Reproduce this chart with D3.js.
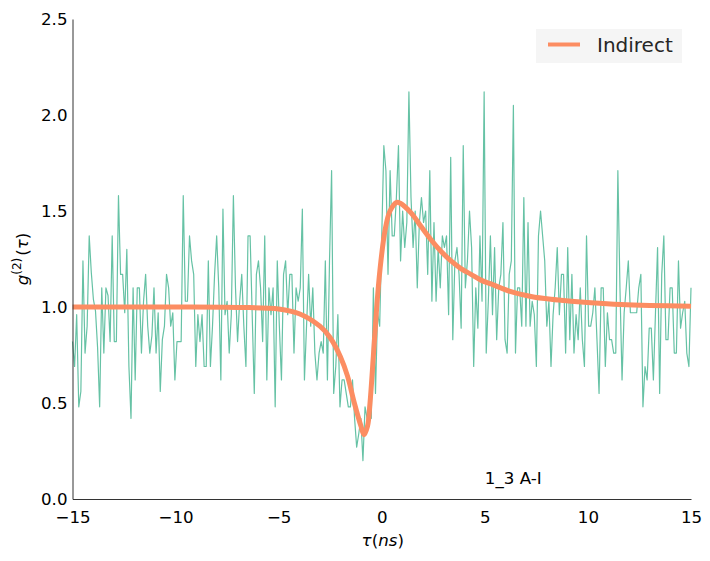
<!DOCTYPE html>
<html>
<head>
<meta charset="utf-8">
<script src="https://cdn.jsdelivr.net/npm/d3@7"></script>
<style>
  body { margin: 0; background: #fff; }
  svg { display: block; }
  text { font-family: 'DejaVu Sans', sans-serif; }
</style>
</head>
<body>
<svg id="chart" width="710" height="561"></svg>
<script>
'use strict';

var measured = [
  0.82, 0.69, 0.96, 0.48, 0.56, 1.24, 0.76, 0.90, 1.37, 1.18, 1.04, 0.98, 0.79, 0.48, 1.10, 0.76,
  1.10, 1.06, 0.82, 1.37, 0.82, 0.82, 1.58, 1.17, 1.17, 0.97, 1.30, 0.69, 0.42, 1.10, 0.62, 1.10,
  1.10, 0.76, 1.03, 1.17, 0.90, 0.76, 0.85, 1.10, 0.76, 0.97, 0.56, 0.83, 0.90, 1.17, 1.10, 0.90,
  0.97, 0.62, 0.82, 0.82,
  0.82, 1.58, 1.03, 1.03, 1.37, 1.24, 1.17, 0.69, 0.96, 0.82, 0.96, 0.69, 0.69, 1.24, 0.69, 0.90,
  1.17, 1.37, 1.10, 0.62, 1.51, 0.96, 1.03, 0.76, 0.96, 1.58, 1.10, 0.82, 1.03, 1.17, 0.90, 0.69,
  1.37, 1.37, 0.96, 0.55, 1.17, 1.24, 1.10, 0.82, 1.37, 0.62, 1.10, 0.96, 1.10, 0.48, 1.24, 0.90,
  0.62, 1.17, 1.24, 0.96,
  1.17, 1.17, 0.76, 1.10, 1.03, 1.10, 1.51, 0.62, 0.90, 1.17, 0.90, 1.10, 0.76, 0.62, 0.76, 0.82,
  0.76, 1.24, 0.62, 1.24, 1.71, 0.55, 0.69, 0.96, 0.48, 0.62, 0.62, 0.55, 0.48, 0.48, 0.62, 0.42,
  0.27, 0.34, 0.42, 0.20, 0.48, 0.42, 0.48, 0.42, 1.10,
  0.55, 0.97, 0.90, 1.37, 1.84, 1.71, 1.17, 1.71, 1.37, 1.37, 1.57, 1.84, 1.24, 1.50, 1.31, 1.44,
  2.12, 1.57, 1.31, 1.50, 1.10, 1.44, 1.57, 1.44, 1.50, 1.17, 1.71, 1.03, 1.44, 1.03, 1.31, 1.10,
  1.37, 1.31, 1.37, 0.96, 1.78, 0.83, 1.24, 1.31, 1.17, 0.89, 1.84, 1.10, 1.24, 1.50, 1.31, 0.69,
  1.10, 0.89, 1.37,
  1.03, 2.12, 0.76, 1.03, 1.37, 0.96, 1.31, 0.83, 1.10, 1.17, 1.44, 0.83, 0.76, 1.17, 1.24, 2.05,
  0.76, 1.10, 1.10, 0.90, 1.57, 0.90, 1.44, 0.90, 1.03, 0.96, 0.69, 1.37, 1.50, 1.37, 1.24, 0.90,
  1.03, 0.69, 0.96, 1.10, 1.31, 0.96, 1.17, 1.17, 0.76, 1.31, 0.83, 1.17, 0.76, 0.96, 0.83, 1.10,
  0.83, 0.69, 1.37, 0.90, 0.90,
  0.97, 1.10, 0.83, 0.55, 1.10, 1.10, 0.69, 0.97, 0.83, 0.83, 0.76, 0.76, 1.71, 1.10, 0.62, 0.97,
  1.10, 1.24, 0.97, 0.97, 0.97, 0.97, 1.10, 1.17, 0.48, 0.69, 0.62, 0.89, 0.89, 0.62, 0.97, 1.31,
  0.55, 1.17, 1.37, 0.83, 0.83, 1.10, 1.10, 0.76, 0.76, 1.24, 0.89, 0.97, 1.03, 0.76, 0.69, 1.10
];

// "Indirect" fit curve
var fitTau = [-15, -10, -7, -5, -4, -3, -2.5, -2, -1.66, -1.33, -1.01, -0.86, -0.69, -0.57,
  -0.41, -0.25, -0.09, 0.16, 0.4, 0.73, 0.9, 1.42, 1.9, 2.39, 2.87, 3.36, 3.84, 4.33, 4.81,
  5.3, 6.27, 7.24, 8.21, 9.18, 10.15, 11.6, 13, 15];
var fitG2 = [1.0, 1.0, 0.998, 0.99, 0.965, 0.90, 0.84, 0.74, 0.64, 0.50, 0.38, 0.335, 0.38,
  0.50, 0.74, 0.99, 1.19, 1.40, 1.50, 1.545, 1.54, 1.49, 1.42, 1.35, 1.29, 1.24, 1.20, 1.17,
  1.14, 1.12, 1.08, 1.055, 1.04, 1.03, 1.022, 1.013, 1.008, 1.004];

var xTicks = [-15, -10, -5, 0, 5, 10, 15];
var yTicks = [0.0, 0.5, 1.0, 1.5, 2.0, 2.5];
var tauRange = [-15, 15];
var legendLabel = 'Indirect';
var note = '1_3 A-I';

var svg = d3.select('#chart');
var margin = {left: 72.5, top: 19, right: 19, bottom: 62};
var width = 710 - margin.left - margin.right;
var height = 561 - margin.top - margin.bottom;

var x = d3.scaleLinear().domain(tauRange).range([0, width]);
var y = d3.scaleLinear().domain([0, 2.5]).range([height, 0]);

var g = svg.append('g')
  .attr('transform', 'translate(' + margin.left + ',' + margin.top + ')');

// sample grid of the histogram
var step = (tauRange[1] - tauRange[0]) / (measured.length - 1);
var points = measured.map(function(v, i) {
  return [tauRange[0] + i * step, v];
});

g.append('path')
  .datum(points)
  .attr('fill', 'none')
  .attr('stroke', '#66c2a5')
  .attr('stroke-width', 1.2)
  .attr('stroke-linejoin', 'round')
  .attr('d', d3.line()
    .x(function(d) { return x(d[0]); })
    .y(function(d) { return y(d[1]); }));

g.append('path')
  .datum(fitTau.map(function(t, i) { return [t, fitG2[i]]; }))
  .attr('fill', 'none')
  .attr('stroke', '#fc8d62')
  .attr('stroke-width', 5)
  .attr('stroke-linejoin', 'round')
  .attr('d', d3.line()
    .curve(d3.curveCatmullRom.alpha(0.5))
    .x(function(d) { return x(d[0]); })
    .y(function(d) { return y(d[1]); }));

// axes: only left and bottom spines, no tick marks
var xAxis = g.append('g')
  .attr('transform', 'translate(0,' + height + ')')
  .call(d3.axisBottom(x).tickValues(xTicks).tickSize(0).tickPadding(12)
    .tickFormat(function(d) { return d < 0 ? '\u2212' + Math.abs(d) : d; }));

var yAxis = g.append('g')
  .call(d3.axisLeft(y).tickValues(yTicks).tickSize(0).tickPadding(5)
    .tickFormat(d3.format('.1f')));

[xAxis, yAxis].forEach(function(a) {
  a.select('.domain').attr('stroke', '#333').attr('stroke-width', 1);
  a.selectAll('text')
    .attr('font-family', 'DejaVu Sans, sans-serif')
    .attr('font-size', 16.67)
    .attr('fill', '#000');
});

// axis titles (math style)
var xl = svg.append('text')
  .attr('x', margin.left + width / 2 + 1)
  .attr('y', 546)
  .attr('text-anchor', 'middle')
  .attr('font-family', 'DejaVu Serif, serif')
  .attr('font-size', 16.67);
xl.append('tspan').attr('font-style', 'italic').text('\u03c4');
xl.append('tspan').text('(');
xl.append('tspan').attr('font-style', 'italic').text('ns');
xl.append('tspan').text(')');

var yl = svg.append('text')
  .attr('transform', 'translate(28,259) rotate(-90)')
  .attr('text-anchor', 'middle')
  .attr('font-family', 'DejaVu Serif, serif')
  .attr('font-size', 16.67);
yl.append('tspan').attr('font-style', 'italic').text('g');
yl.append('tspan').attr('font-size', 12).attr('dy', -7).text('(2)');
yl.append('tspan').attr('dy', 7).attr('dx', 2).text('(');
yl.append('tspan').attr('font-style', 'italic').text('\u03c4');
yl.append('tspan').text(')');

// legend
var legend = svg.append('g');
legend.append('rect')
  .attr('x', 536).attr('y', 29)
  .attr('width', 146).attr('height', 34)
  .attr('fill', '#f5f5f5');
legend.append('line')
  .attr('x1', 548).attr('x2', 580)
  .attr('y1', 44.5).attr('y2', 44.5)
  .attr('stroke', '#fc8d62')
  .attr('stroke-width', 4);
legend.append('text')
  .attr('x', 597).attr('y', 52)
  .attr('font-size', 20)
  .attr('fill', '#262626')
  .text(legendLabel);

svg.append('text')
  .attr('x', x(5) + margin.left)
  .attr('y', 484)
  .attr('font-size', 16.67)
  .attr('fill', '#000')
  .text(note);
</script>
</body>
</html>
